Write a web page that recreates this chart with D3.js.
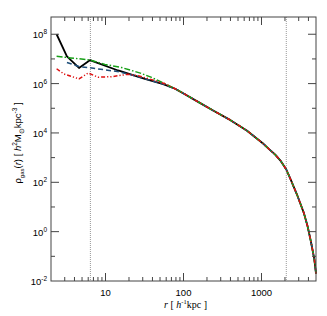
<!DOCTYPE html>
<html>
<head>
<meta charset="utf-8">
<script src="https://cdn.jsdelivr.net/npm/d3@7"></script>
<style>
  body { margin: 0; background: #fff; }
  svg { display: block; }
</style>
</head>
<body>
<svg class="prof" width="327" height="316"></svg>
<script>
// inner part of each profile (r in h^-1 kpc, rho in h^2 Msun kpc^-3)
var rBlack   = [2.36, 3.2, 4.57, 6.3, 14.5, 32, 55];
var rhoBlack = [1.0e8, 1.26e7, 4.3e6, 8.9e6, 3.4e6, 1.55e6, 9.5e5];

var rBlue    = [3.2, 4.57, 6.3, 9.8, 14.2, 20, 32, 55];
var rhoBlue  = [7.2e6, 4.9e6, 4.4e6, 3.6e6, 3.1e6, 2.4e6, 1.58e6, 9.5e5];

var rGreen   = [2.36, 3.57, 6.3, 9.8, 16, 28, 39, 55];
var rhoGreen = [1.29e7, 1.1e7, 9.1e6, 6.0e6, 4.5e6, 2.65e6, 1.78e6, 1.07e6];

var rRed     = [2.36, 2.93, 4.57, 6.0, 8.0, 11.9, 19.6, 26, 39, 58];
var rhoRed   = [4.0e6, 2.45e6, 1.55e6, 2.7e6, 1.82e6, 1.9e6, 2.4e6, 2.1e6, 1.45e6, 9.8e5];

// outer part, all runs agree here
var rOuter   = [78, 100, 150, 243, 400, 653, 1067, 1250, 1500, 1750, 2080, 2377, 2897, 3500, 3899, 4300, 4750, 5000];
var rhoOuter = [6.2e5, 4.0e5, 1.9e5, 7.9e4, 3.3e4, 1.23e4, 3.55e3, 2.2e3, 1.32e3, 759, 330, 126, 28, 5.6, 1.66, 0.4, 0.079, 0.02];

var vlines = [6.4, 2080];
var yMajor = [-2, 0, 2, 4, 6, 8];
var xMajor = [10, 100, 1000];

var svg = d3.select(".prof"),
    margin = {top: 17, right: 11, bottom: 35, left: 51},
    width = +svg.attr("width") - margin.left - margin.right,
    height = +svg.attr("height") - margin.top - margin.bottom,
    g = svg.append("g").attr("transform", "translate(" + margin.left + "," + margin.top + ")");

var x = d3.scaleLog().domain([2, 5000]).range([0, width]);
var y = d3.scaleLog().domain([0.01, 5e8]).range([height, 0]);

function series(r, rho) {
  var pts = r.map(function(d, i) { return [d, rho[i]]; });
  return pts.concat(rOuter.map(function(d, i) { return [d, rhoOuter[i]]; }));
}

var line = d3.line()
    .x(function(d) { return x(d[0]); })
    .y(function(d) { return y(d[1]); });

// dotted verticals
g.selectAll(".vl").data(vlines).enter().append("line")
    .attr("x1", function(d) { return x(d); })
    .attr("x2", function(d) { return x(d); })
    .attr("y1", 0).attr("y2", height)
    .attr("stroke", "#999").attr("stroke-width", 1)
    .attr("stroke-dasharray", "1,1");

var curves = [
  {d: series(rBlack, rhoBlack), c: "#000", w: 1.8, dash: null},
  {d: series(rBlue, rhoBlue), c: "#1f4f7a", w: 1.5, dash: "5,3"},
  {d: series(rGreen, rhoGreen), c: "#17a017", w: 1.5, dash: "6,2,1.5,2"},
  {d: series(rRed, rhoRed), c: "#dd1111", w: 1.5, dash: "4,2,1.2,2,1.2,2"}
];

curves.forEach(function(s) {
  g.append("path")
      .datum(s.d)
      .attr("fill", "none")
      .attr("stroke", s.c)
      .attr("stroke-width", s.w)
      .attr("stroke-linejoin", "round")
      .attr("stroke-dasharray", s.dash)
      .attr("d", line);
});

// frame and ticks (inside, all four sides)
var axCol = "#444";
g.append("rect").attr("width", width).attr("height", height)
    .attr("fill", "none").attr("stroke", axCol).attr("stroke-width", 1);

var xt = [];
[1, 10, 100, 1000].forEach(function(dec) {
  for (var k = 1; k < 10; k++) {
    var v = dec * k;
    if (v > 2 && v < 5000) xt.push({v: v, major: k == 1});
  }
});
var yt = [];
for (var e = -1; e <= 8; e++) yt.push({v: Math.pow(10, e), major: e % 2 == 0});

xt.forEach(function(t) {
  var L = t.major ? 8 : 4, px = x(t.v);
  g.append("line").attr("x1", px).attr("x2", px).attr("y1", height).attr("y2", height - L)
      .attr("stroke", axCol);
  g.append("line").attr("x1", px).attr("x2", px).attr("y1", 0).attr("y2", L)
      .attr("stroke", axCol);
});
yt.forEach(function(t) {
  var L = t.major ? 8 : 4, py = y(t.v);
  g.append("line").attr("x1", 0).attr("x2", L).attr("y1", py).attr("y2", py)
      .attr("stroke", axCol);
  g.append("line").attr("x1", width).attr("x2", width - L).attr("y1", py).attr("y2", py)
      .attr("stroke", axCol);
});

// tick labels
g.selectAll(".xl").data(xMajor).enter().append("text")
    .attr("x", function(d) { return x(d); })
    .attr("y", height + 15)
    .attr("text-anchor", "middle")
    .style("font", "9.5px 'Liberation Sans', Arial, sans-serif")
    .text(function(d) { return d; });

var yl = g.selectAll(".yl").data(yMajor).enter().append("text")
    .attr("x", -4)
    .attr("y", function(d) { return y(Math.pow(10, d)) + 4; })
    .attr("text-anchor", "end")
    .style("font", "9.5px 'Liberation Sans', Arial, sans-serif");
yl.append("tspan").text("10");
yl.append("tspan").attr("dy", -4).style("font-size", "6.5px").text(function(d) { return d; });

// axis titles
var xlab = svg.append("text")
    .attr("x", margin.left + width / 2 + 2)
    .attr("y", 308)
    .attr("text-anchor", "middle")
    .style("font", "10px 'Liberation Serif', 'Times New Roman', serif");
xlab.append("tspan").style("font-style", "italic").text("r");
xlab.append("tspan").text(" [ ");
xlab.append("tspan").style("font-style", "italic").text("h");
xlab.append("tspan").attr("dy", -4).style("font-size", "6.5px").text("-1");
xlab.append("tspan").attr("dy", 4).text("kpc ]");

var ylab = svg.append("text")
    .attr("transform", "translate(21," + (margin.top + height / 2 - 6) + ") rotate(-90)")
    .attr("text-anchor", "middle")
    .style("font", "9.5px 'Liberation Sans', Arial, sans-serif");
ylab.append("tspan").text("ρ");
ylab.append("tspan").attr("dy", 2.5).style("font-size", "6px").text("gas");
ylab.append("tspan").attr("dy", -2.5).text("(");
ylab.append("tspan").style("font-style", "italic").text("r");
ylab.append("tspan").text(") [ ");
ylab.append("tspan").style("font-style", "italic").text("h");
ylab.append("tspan").attr("dy", -4).style("font-size", "6.5px").text("2");
ylab.append("tspan").attr("dy", 4).text("M");
ylab.append("tspan").attr("dy", 2.5).style("font-size", "6.5px").text("⊙");
ylab.append("tspan").attr("dy", -2.5).text("kpc");
ylab.append("tspan").attr("dy", -4).style("font-size", "6.5px").text("-3");
ylab.append("tspan").attr("dy", 4).text(" ]");
</script>
</body>
</html>
